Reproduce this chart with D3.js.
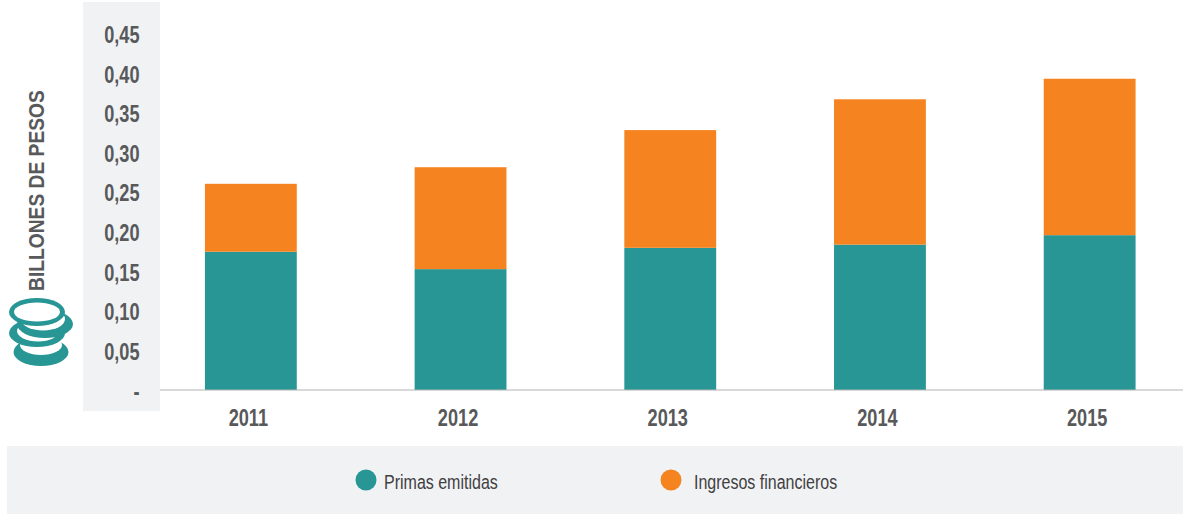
<!DOCTYPE html>
<html><head><meta charset="utf-8">
<script src="https://cdnjs.cloudflare.com/ajax/libs/d3/7.8.5/d3.min.js"></script>
<style>html,body{margin:0;padding:0;background:#fff}svg{display:block}
text{font-family:"Liberation Sans",Arial,sans-serif}</style></head>
<body><svg id="c" width="1183" height="514"></svg>
<script>
const years=["2011","2012","2013","2014","2015"];
const primas=[0.175,0.153,0.180,0.184,0.196];
const ingresos=[0.086,0.129,0.149,0.184,0.198];
const tickValues=[0,0.05,0.10,0.15,0.20,0.25,0.30,0.35,0.40,0.45];
const seriesNames=["Primas emitidas","Ingresos financieros"];
const colors=["#279695","#f58420"];

const svg=d3.select("#c");
const y=d3.scaleLinear().domain([0,0.45]).range([390,34.5]);
const labelY=d3.scaleLinear().domain([0,0.45]).range([399.6,43]);
const x=d3.scaleBand().domain(years).range([146,1194.5]).paddingInner(0.562).paddingOuter(0.281);

svg.append("rect").attr("x",83).attr("y",2).attr("width",77).attr("height",409).attr("fill","#f1f2f4");
svg.append("rect").attr("x",7).attr("y",446).attr("width",1176).attr("height",68).attr("fill","#f1f2f4");

const rows=years.map((yr,i)=>({year:yr,primas:primas[i],ingresos:ingresos[i]}));
const stack=d3.stack().keys(["primas","ingresos"])(rows);
svg.selectAll("g.s").data(stack).join("g").attr("class","s").attr("fill",(d,i)=>colors[i])
 .selectAll("rect").data(d=>d).join("rect")
 .attr("x",d=>x(d.data.year)).attr("width",x.bandwidth())
 .attr("y",d=>y(d[1])).attr("height",d=>y(d[0])-y(d[1]));

svg.append("line").attr("x1",160).attr("x2",1183).attr("y1",y(0)).attr("y2",y(0)).attr("stroke","#b3b3b3").attr("stroke-width",1.2);

svg.selectAll("text.yt").data(tickValues).join("text").attr("class","yt")
 .attr("transform",d=>`translate(139.5,${d===0?400:labelY(d)}) scale(.79,1)`).attr("text-anchor","end")
 .attr("font-size",23).attr("font-weight",700).attr("fill","#58595b")
 .text(d=>d===0?"-":d3.format(".2f")(d).replace(".",","));

svg.selectAll("text.xt").data(years).join("text").attr("class","xt")
 .attr("transform",d=>`translate(${x(d)+x.bandwidth()/2-2.5},426) scale(.79,1)`).attr("text-anchor","middle")
 .attr("font-size",23).attr("font-weight",700).attr("fill","#58595b").text(d=>d);

svg.append("text").attr("transform","translate(44,291) rotate(-90) scale(.855,1)")
 .attr("font-size",22.5).attr("font-weight",700).attr("fill","#58595b").text("BILLONES DE PESOS");

// coin stack icon, drawn bottom coin first
const coins=[[41,352,27.5,14,41,345,21,10],[37,333,28,14,38,331,21,10.5],[45,324,28,14,43,319,22,11.5],[37,312,28,14,37,312,23,9.5]];
const coin=svg.append("g");
coins.forEach(([cx,cy,rx,ry,wx,wy,wrx,wry])=>{
  coin.append("ellipse").attr("cx",cx).attr("cy",cy).attr("rx",rx).attr("ry",ry).attr("fill",colors[0]);
  coin.append("ellipse").attr("cx",wx).attr("cy",wy).attr("rx",wrx).attr("ry",wry).attr("fill","#fff");
});

const lx=[366,671], lt=[384,694];
seriesNames.forEach((n,i)=>{
  svg.append("circle").attr("cx",lx[i]).attr("cy",480).attr("r",10.5).attr("fill",colors[i]);
  svg.append("text").attr("transform",`translate(${lt[i]},488.5) scale(.8,1)`).attr("font-size",20).attr("fill","#414042").text(n);
});
</script></body></html>
